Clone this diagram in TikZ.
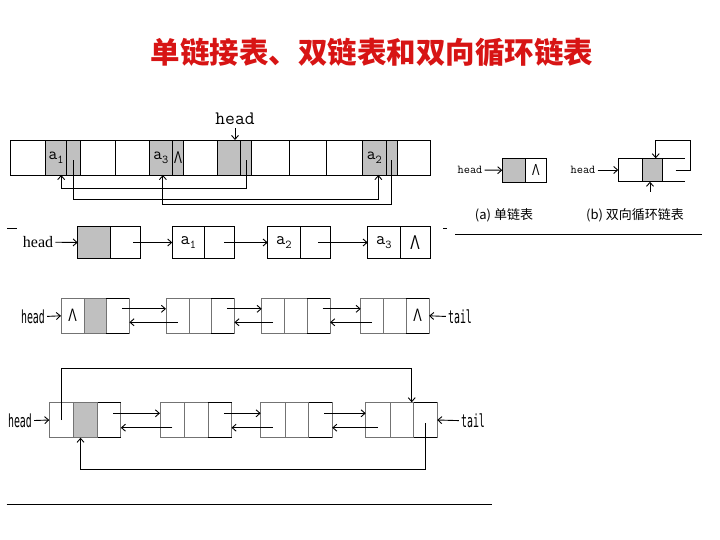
\documentclass[tikz,border=0pt]{standalone}
\usepackage{fontspec}
\setmainfont{Liberation Serif}
\newfontfamily\cjkfont{Noto Sans CJK SC}
\newcommand\monofont{\ttfamily}
\newfontfamily\narrowfont[FakeStretch=0.55]{DejaVu Sans Mono}
\newfontfamily\nilfont[FakeStretch=0.7]{Liberation Sans}
\usetikzlibrary{arrows.meta,positioning}
\definecolor{titleC}{RGB}{215,20,20}
\definecolor{cellgray}{RGB}{192,192,192}
\newcommand\lab[2]{#1\raisebox{-4pt}{\fontsize{12}{12}\selectfont#2}}
\newcommand\nil{{\nilfont Λ}}
\tikzset{
  cell/.style={rectangle, draw=black, line width=0.9pt, inner sep=0pt, outer sep=0pt},
  dcell/.style={cell, draw=black!55},
  link/.style={-{Straight Barb[length=4pt,width=7pt]}, line width=0.9pt},
  lbl/.style={font=\narrowfont\fontsize{18}{18}\selectfont, inner sep=2pt},
  small/.style={font=\monofont\fontsize{12}{12}\selectfont, inner sep=2pt},
  capnote/.style={font=\cjkfont\fontsize{13}{13}\selectfont},
  rule/.style={line width=0.9pt},
}

\begin{document}
\begin{tikzpicture}[x=1pt, y=-1pt]
  \useasboundingbox (0,0) rectangle (720,540);
  \node[font=\cjkfont\bfseries\fontsize{29.5}{30}\selectfont, text=titleC] (title) at (372,53)
    {单链接表、双链表和双向循环链表};

  % memory row
  \begin{scope}[font=\monofont\fontsize{17}{17}\selectfont]
    \foreach \x/\w/\f/\t [count=\i] in {10.7/35/white/{}, 45.7/21/cellgray/{\lab a1},
        66.7/14/cellgray/{}, 80.7/34.3/white/{}, 115/34/white/{}, 149/23.7/cellgray/{\lab a3},
        172.7/10.6/cellgray/{\nil}, 183.3/34.4/white/{}, 217.7/23/cellgray/{}, 240.7/10.6/cellgray/{},
        251.3/38/white/{}, 289.3/37.4/white/{}, 326.7/36/white/{}, 362.7/23.3/cellgray/{\lab a2},
        386/11.7/cellgray/{}, 397.7/33/white/{}}
      \node[cell, fill=\f, minimum width=\w, minimum height=35, anchor=north west] (m\i) at (\x,140) {\t};
  \end{scope}
  \node[font=\monofont\fontsize{19}{19}\selectfont] (hd1) at (235,119) {head};
  \draw[link] (hd1.south) -- (hd1.south |- m9.north);
  \draw[link] ([yshift=-3pt]m10.center) -- ([yshift=-13pt]m10.south) -| ([xshift=5pt]m2.south);
  \draw[link] ([yshift=-3pt]m3.center) -- ([yshift=-24pt]m3.south) -| ([xshift=4pt]m14.south);
  \draw[link] ([yshift=-3pt]m15.center) -- ([yshift=-29pt]m15.south) -| ([xshift=2pt]m6.south);

  % (a) and (b)
  \node[cell, fill=cellgray, minimum width=23.4, minimum height=24, anchor=north west] (ua) at (502.3,158.3) {};
  \node[cell, minimum width=20.3, minimum height=24, right=0pt of ua] (ub) {\fontsize{16}{16}\selectfont\nil};
  \node[small] (hda) at (470,170) {head};
  \draw[link] (hda) -- (ua);
  \node[capnote] (capa) at (504,215) {(a) 单链表};

  \node[cell, minimum width=24, minimum height=23.4, anchor=north west] (va) at (618.3,158.3) {};
  \node[cell, fill=cellgray, minimum width=20, minimum height=23.4, right=0pt of va] (vb) {};
  \draw[rule] (vb.north east) -- ++(22.7,0) (vb.south east) -- ++(22.7,0);
  \coordinate (vp) at ([xshift=13.4pt]vb.east);
  \coordinate (vq) at ([xshift=-2.3pt,yshift=-10pt]vb.south);
  \draw[link] (vp) -| ([xshift=27.7pt,yshift=18.3pt]vb.north east) -| ([xshift=3.4pt]vb.north);
  \draw[link] (vq) -- ([xshift=-2.3pt]vb.south);
  \node[small] (hdb) at (583,170) {head};
  \draw[link] (hdb) -- (va);
  \node[capnote] (capb) at (635,215) {(b) 双向循环链表};

  \draw[rule] (443,228) -- (447,228) (455,234) -- (701.7,234);
  \draw[rule] (7,228) -- (17,228);

  % singly linked list
  \begin{scope}[font=\monofont\fontsize{18}{18}\selectfont]
    \foreach \i/\x/\f/\ta/\tb in {0/77.7/cellgray/{}/{}, 1/172.3/white/{\lab a1}/{},
        2/267.7/white/{\lab a2}/{}, 3/367.7/white/{\lab a3}/{\fontsize{20}{20}\selectfont\nil}} {
      \node[cell, fill=\f, minimum width=32.3, minimum height=31.6, anchor=north west] (sa\i) at (\x,226.7) {\ta};
      \node[cell, minimum width=30.3, minimum height=31.6, right=0pt of sa\i] (sb\i) {\tb};
    }
  \end{scope}
  \node[font=\fontsize{16}{16}\selectfont, inner sep=2pt] (hd2) at (38,242) {head};
  \draw[link] (hd2) -- (sa0.west);
  \foreach \i/\s in {0/8,1/4.5,2/3} {
    \pgfmathtruncatemacro\j{\i+1}
    \draw[link] ([xshift=\s pt]sb\i.center) -- (sa\j.west);
  }

  % doubly linked list
  \foreach \i/\x/\f/\ta/\tc in {1/61/cellgray/{\nil}/{}, 2/166/white/{}/{}, 3/261.7/white/{}/{},
      4/360.7/white/{}/{\nil}} {
    \node[dcell, minimum width=23, minimum height=35, anchor=north west, font=\fontsize{18}{18}\selectfont]
      (da\i) at (\x,298.3) {\ta};
    \node[dcell, fill=\f, minimum width=22.4, minimum height=35, right=0pt of da\i] (db\i) {};
    \node[dcell, minimum width=23, minimum height=35, right=0pt of db\i, font=\fontsize{18}{18}\selectfont]
      (dc\i) {\tc};
    \draw[rule] (dc\i.north west) -- (dc\i.north east) (dc\i.south west) -- (dc\i.south east);
  }
  \foreach \i in {1,2,3} {
    \pgfmathtruncatemacro\j{\i+1}
    \draw[link] ([xshift=4pt,yshift=7pt]dc\i.center) -- ([yshift=7pt]da\j.west);
    \draw[link] ([yshift=-6.5pt]da\j.center) -- ([yshift=-6.5pt]dc\i.east);
  }
  \node[lbl] (hd3) at (33,317) {head};
  \draw[link] (hd3) -- (da1.west);
  \node[lbl] (tl3) at (460,317) {tail};
  \draw[link] (tl3) -- (dc4.east);

  % doubly linked circular list
  \foreach \i/\x in {1/49.3, 2/160, 3/260.7, 4/365.7} {
    \node[dcell, minimum width=24.5, minimum height=35.4, anchor=north west] (ea\i) at (\x,402.3) {};
    \node[dcell, minimum width=23.5, minimum height=35.4, right=0pt of ea\i] (eb\i) {};
    \node[dcell, minimum width=23.5, minimum height=35.4, right=0pt of eb\i] (ec\i) {};
    \draw[rule] (ec\i.north west) -- (ec\i.north east) (ec\i.south west) -- (ec\i.south east);
  }
  \fill[cellgray, draw=black!55, line width=0.9pt] (eb1.north west) rectangle (eb1.south east);
  \foreach \i in {1,2,3} {
    \pgfmathtruncatemacro\j{\i+1}
    \draw[link] ([xshift=4pt,yshift=6.7pt]ec\i.center) -- ([yshift=6.7pt]ea\j.west);
    \draw[link] ([yshift=-7.7pt]ea\j.center) -- ([yshift=-7.7pt]ec\i.east);
  }
  \draw[link] (ea1.center) -- ([yshift=34pt]ea1.north) -| ([xshift=-2pt]eb4.north east);
  \draw[link] ([yshift=-3pt]ec4.center) -- ([yshift=-31.6pt]ec4.south) -| ([xshift=-5pt]eb1.south);
  \node[lbl] (hd4) at (20,421) {head};
  \draw[link] (hd4) -- (ea1.west);
  \node[lbl] (tl4) at (473,421) {tail};
  \draw[link] (tl4) -- (ec4.east);

  \draw[rule] (6.7,504) -- (491.7,504);
\end{tikzpicture}
\end{document}
